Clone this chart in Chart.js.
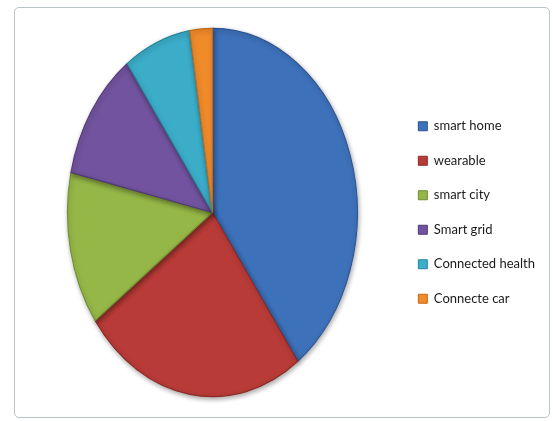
<!DOCTYPE html>
<html>
<head>
<meta charset="utf-8">
<script src="https://cdn.jsdelivr.net/npm/chart.js@4.4.0/dist/chart.umd.min.js"></script>
<style>
  html, body { margin: 0; padding: 0; background: #fff; }
  #wrap { position: relative; width: 553px; height: 421px; }
  #frame {
    position: absolute; left: 14px; top: 7px; width: 536px; height: 411px;
    border: 1px solid #b9c3c8; border-radius: 5px; box-sizing: border-box;
  }
  canvas { position: absolute; left: 0; top: 0; }
</style>
</head>
<body>
<div id="wrap">
  <div id="frame"></div>
  <canvas id="pieChart" width="553" height="421"></canvas>
</div>
<script>
// Data segmen (persen)
const labels = ['smart home', 'wearable', 'smart city', 'Smart grid', 'Connected health', 'Connecte car'];
const shares = [40, 25, 13.5, 11.5, 7.5, 2.5];
const sliceColors = ['#3d71ba', '#b83b37', '#95b747', '#72539f', '#3badc9', '#f08b2a'];
const edgeColors = ['#2b5290', '#8e2a27', '#6f8c30', '#52397a', '#27869f', '#c46a16'];

// pie di Excel agak lonjong (tinggi > lebar)
const stretchY = 1.27;

const ovalPie = {
  id: 'ovalPie',
  beforeDatasetsDraw(chart) {
    const a = chart.chartArea;
    const cx = (a.left + a.right) / 2;
    const cy = (a.top + a.bottom) / 2;
    const ctx = chart.ctx;
    ctx.save();
    ctx.translate(cx, cy);
    ctx.scale(1, stretchY);
    ctx.translate(-cx, -cy);
    ctx.shadowColor = 'rgba(0, 0, 0, 0.35)';
    ctx.shadowBlur = 5;
    ctx.shadowOffsetX = 1;
    ctx.shadowOffsetY = 2;
  },
  afterDatasetsDraw(chart) {
    chart.ctx.restore();
  }
};

new Chart(document.getElementById('pieChart'), {
  type: 'pie',
  data: {
    labels: labels,
    datasets: [{
      data: shares,
      backgroundColor: sliceColors,
      borderColor: edgeColors,
      borderWidth: 1
    }]
  },
  options: {
    responsive: false,
    animation: false,
    events: [],
    layout: { padding: { left: 28, right: 8, top: 67, bottom: 63 } },
    plugins: {
      tooltip: { enabled: false },
      legend: {
        position: 'right',
        labels: {
          boxWidth: 9,
          boxHeight: 9,
          padding: 21.5,
          color: '#1a1a1a',
          font: { family: 'Lato', size: 13 }
        }
      }
    }
  },
  plugins: [ovalPie]
});
</script>
</body>
</html>
